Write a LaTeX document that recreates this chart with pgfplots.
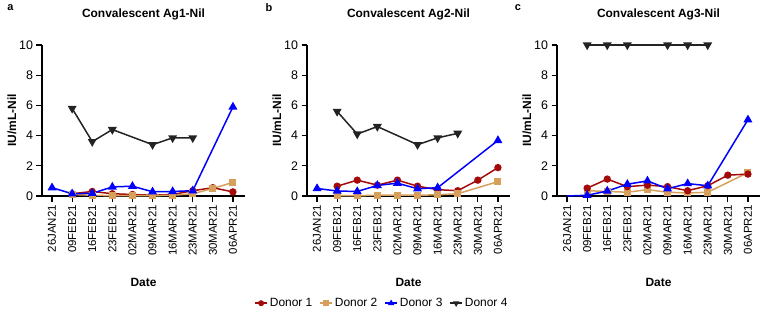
\documentclass[border=0pt]{standalone}
\usepackage{pgfplots}
\pgfplotsset{compat=1.18}
\usepackage{fontspec}
\setmainfont{Liberation Sans}
\definecolor{dred}{RGB}{165,10,10}
\definecolor{dtan}{RGB}{214,160,92}
\definecolor{dblue}{RGB}{0,0,255}
\definecolor{dblack}{RGB}{35,35,35}
\pgfplotsset{
  panel/.style={
    scale only axis, width=203bp, height=151bp,
    xmin=-0.5, xmax=9.6, ymin=0, ymax=10,
    axis lines=left, axis line style={-, line width=1.6pt, black},
    tick align=outside, major tick length=5.5bp,
    every tick/.style={black, line width=1.3pt},
    xtick={0,...,9},
    xticklabels={26JAN21,09FEB21,16FEB21,23FEB21,02MAR21,09MAR21,16MAR21,23MAR21,30MAR21,06APR21},
    x tick label style={rotate=90, anchor=east, font=\fontsize{11.5}{12}\selectfont},
    ytick={0,2,4,6,8,10},
    y tick label style={font=\fontsize{12.5}{13}\selectfont},
    /pgf/number format/assume math mode=true,
    xlabel={Date}, ylabel={IU/mL-Nil},
    xlabel style={at={(axis description cs:0.5,-0.57)}, anchor=center, font=\bfseries\fontsize{12}{13}\selectfont},
    ylabel style={at={(axis description cs:-0.148,0.5)}, anchor=center, font=\bfseries\fontsize{12}{13}\selectfont},
    every axis title shift=0pt,
    title style={at={(axis description cs:0.5,1.2)}, anchor=center, yshift=0pt, font=\bfseries\fontsize{12}{13}\selectfont},
    clip=false,
  },
  d1/.style={color=dred, line width=1.5pt, mark=*, mark size=2.9bp, mark options={solid}},
  d2/.style={color=dtan, line width=1.5pt, mark=square*, mark size=2.7bp, mark options={solid}},
  d3/.style={color=dblue, line width=1.5pt, mark=triangle*, mark size=3.7bp, mark options={solid}},
  d4/.style={color=dblack, line width=1.5pt, mark=triangle*, mark size=3.7bp, mark options={solid, rotate=180}},
}
\begin{document}
\begin{tikzpicture}
\useasboundingbox (0,0) rectangle (760bp,310bp);
% Panel a
\begin{axis}[panel, at={(42bp,114bp)}, anchor=south west, title={Convalescent Ag1-Nil}]
\addplot[d1] coordinates {(1,0.15)(2,0.3)(3,0.15)(4,0.1)(5,0.05)(6,0.1)(7,0.35)(8,0.55)(9,0.27)};
\addplot[d2] coordinates {(1,0.1)(2,0.05)(3,0.02)(4,0.02)(5,0.02)(6,0.05)(7,0.15)(8,0.5)(9,0.9)};
\addplot[d3] coordinates {(0,0.55)(1,0.15)(2,0.18)(3,0.6)(4,0.65)(5,0.28)(6,0.3)(7,0.35)(9,5.9)};
\addplot[d4] coordinates {(1,5.8)(2,3.6)(3,4.4)(5,3.4)(6,3.85)(7,3.85)};
\node[font=\bfseries\fontsize{11}{12}\selectfont] at (axis description cs:-0.155,1.245) {a};
\end{axis}
% Panel b
\begin{axis}[panel, at={(307bp,114bp)}, anchor=south west, title={Convalescent Ag2-Nil},
  legend columns=4,
  legend style={at={(axis description cs:0.369,-0.71)}, anchor=center, draw=none, fill=none,
    font=\fontsize{12}{13}\selectfont, inner sep=0pt,
    /tikz/every odd column/.append style={column sep=0bp},
    /tikz/every even column/.append style={column sep=5bp}},
  legend image code/.code={\draw[mark size=2.2bp, mark repeat=2, mark phase=2] plot coordinates {(0bp,0bp)(6bp,0bp)(12bp,0bp)};},
]
\addplot[d1] coordinates {(1,0.65)(2,1.05)(3,0.72)(4,1.05)(5,0.65)(6,0.42)(7,0.35)(8,1.05)(9,1.88)};
\addplot[d2] coordinates {(1,0.02)(2,0.02)(3,0.05)(4,0.05)(5,0.05)(6,0.08)(7,0.15)(9,0.95)};
\addplot[d3] coordinates {(0,0.5)(1,0.33)(2,0.3)(3,0.7)(4,0.85)(5,0.48)(6,0.55)(9,3.68)};
\addplot[d4] coordinates {(1,5.6)(2,4.1)(3,4.6)(5,3.4)(6,3.85)(7,4.15)};
\legend{Donor 1, Donor 2, Donor 3, Donor 4}
\node[font=\bfseries\fontsize{11}{12}\selectfont] at (axis description cs:-0.187,1.245) {b};
\end{axis}
% Panel c
\begin{axis}[panel, at={(557bp,114bp)}, anchor=south west, title={Convalescent Ag3-Nil}]
\addplot[d2] coordinates {(1,0.35)(2,0.3)(3,0.25)(4,0.42)(5,0.25)(6,0.2)(7,0.25)(9,1.55)};
\addplot[d1] coordinates {(1,0.52)(2,1.12)(3,0.62)(4,0.72)(5,0.62)(6,0.35)(7,0.68)(8,1.38)(9,1.45)};
\addplot[d3, mark indices={2,3,4,5,6,7,8,9}] coordinates {(0,0.0)(1,0.05)(2,0.33)(3,0.78)(4,1.0)(5,0.48)(6,0.82)(7,0.68)(9,5.05)};
\addplot[d4] coordinates {(1,10)(2,10)(3,10)(5,10)(6,10)(7,10)};
\node[font=\bfseries\fontsize{11}{12}\selectfont] at (axis description cs:-0.192,1.245) {c};
\end{axis}
\end{tikzpicture}
\end{document}
